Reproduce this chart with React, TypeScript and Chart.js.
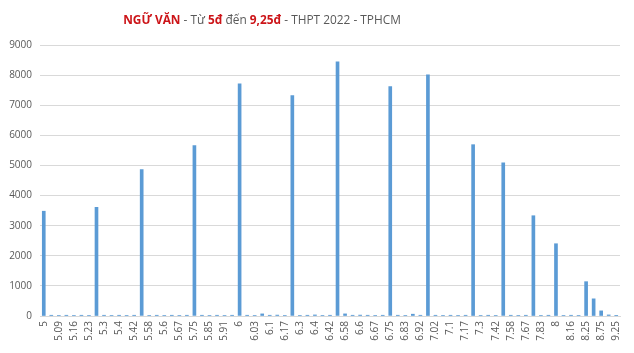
import React, { useEffect, useRef } from "react";
import { Chart, registerables } from "chart.js";

Chart.register(...registerables);

const scoreLabels: string[] = [
  "5", "5.05", "5.09", "5.13", "5.16", "5.2", "5.23", "5.25", "5.3", "5.33",
  "5.4", "5.41", "5.42", "5.5", "5.58", "5.59", "5.6", "5.63", "5.67", "5.7",
  "5.75", "5.8", "5.85", "5.88", "5.91", "5.95", "6", "6.01", "6.03", "6.08",
  "6.1", "6.13", "6.17", "6.25", "6.3", "6.33", "6.4", "6.41", "6.42", "6.5",
  "6.58", "6.59", "6.6", "6.63", "6.67", "6.7", "6.75", "6.8", "6.83", "6.88",
  "6.92", "7", "7.02", "7.08", "7.1", "7.13", "7.17", "7.25", "7.3", "7.33",
  "7.42", "7.5", "7.58", "7.63", "7.67", "7.75", "7.83", "7.92", "8", "8.08",
  "8.16", "8.2", "8.25", "8.5", "8.75", "9", "9.25",
];

const candidateCounts: number[] = [
  3480, 25, 20, 25, 20, 25, 20, 3610, 25, 20,
  25, 20, 25, 4860, 20, 25, 20, 25, 20, 25,
  5660, 25, 20, 25, 20, 25, 7710, 25, 20, 70,
  25, 30, 20, 7320, 20, 25, 35, 20, 25, 8440,
  70, 25, 30, 25, 20, 25, 7620, 25, 20, 60,
  25, 8010, 25, 20, 25, 20, 25, 5690, 20, 25,
  20, 5090, 25, 20, 25, 3330, 20, 25, 2400, 20,
  25, 20, 1140, 570, 170, 35, 8,
];

const yTicks: number[] = [0, 1000, 2000, 3000, 4000, 5000, 6000, 7000, 8000, 9000];

const titleRuns: { text: string; red: boolean }[] = [
  { text: "NGỮ VĂN", red: true },
  { text: " - Từ ", red: false },
  { text: "5đ", red: true },
  { text: " đến ", red: false },
  { text: "9,25đ", red: true },
  { text: " - THPT 2022 - TPHCM", red: false },
];

const FONT = "'Open Sans', 'Liberation Sans', sans-serif";
const RED = "#CC1418";
const GRAY = "#595959";

const titlePlugin = {
  id: "mixedTitle",
  afterDraw(chart: any) {
    const ctx = chart.ctx as CanvasRenderingContext2D;
    ctx.save();
    const base = 14;
    const fontFor = (r: { red: boolean }, s: number) =>
      `${r.red ? "bold " : ""}${s}px ${FONT}`;
    let w = 0;
    for (const r of titleRuns) {
      ctx.font = fontFor(r, base);
      w += ctx.measureText(r.text).width;
    }
    const targetW = 278;
    const size = Math.min(15, (base * targetW) / w);
    let total = 0;
    for (const r of titleRuns) {
      ctx.font = fontFor(r, size);
      total += ctx.measureText(r.text).width;
    }
    let x = 262 - total / 2;
    ctx.textBaseline = "middle";
    ctx.textAlign = "left";
    for (const r of titleRuns) {
      ctx.font = fontFor(r, size);
      ctx.fillStyle = r.red ? RED : GRAY;
      ctx.fillText(r.text, x, 21);
      x += ctx.measureText(r.text).width;
    }
    ctx.restore();
  },
};

export default function App() {
  const ref = useRef<HTMLCanvasElement | null>(null);

  useEffect(() => {
    document.body.style.margin = "0";
    if (!ref.current) return;
    const chart = new Chart(ref.current, {
      type: "bar",
      data: {
        labels: scoreLabels,
        datasets: [
          {
            data: candidateCounts,
            backgroundColor: "#5B9BD5",
            barThickness: 3,
          },
        ],
      },
      plugins: [titlePlugin],
      options: {
        animation: false,
        responsive: false,
        maintainAspectRatio: false,
        layout: { padding: { top: 45, right: 14, left: 0, bottom: 0 } },
        plugins: {
          legend: { display: false },
          title: { display: false },
          tooltip: { enabled: false },
        },
        scales: {
          x: {
            grid: { display: false, drawTicks: false },
            border: { display: true, color: "#d9d9d9" },
            ticks: {
              autoSkip: false,
              maxRotation: 90,
              minRotation: 90,
              padding: 5,
              color: GRAY,
              font: { family: FONT, size: 10 },
              callback: (_v: any, i: number) => (i % 2 === 0 ? scoreLabels[i] : ""),
            },
            afterFit: (s: any) => {
              s.height = 37;
            },
          },
          y: {
            min: 0,
            max: 9000,
            afterBuildTicks: (s: any) => {
              s.ticks = yTicks.map((v) => ({ value: v }));
            },
            grid: { color: "#d9d9d9", drawTicks: false },
            border: { display: false },
            ticks: {
              padding: 8,
              color: GRAY,
              font: { family: FONT, size: 10 },
              callback: (v: any) => String(v),
            },
            afterFit: (s: any) => {
              s.width = 40;
            },
          },
        },
      },
    });
    return () => chart.destroy();
  }, []);

  return (
    <div style={{ position: "fixed", left: 0, top: 0, width: 634, height: 353, background: "#fff" }}>
      <canvas ref={ref} width={634} height={353} style={{ width: 634, height: 353 }} />
    </div>
  );
}
